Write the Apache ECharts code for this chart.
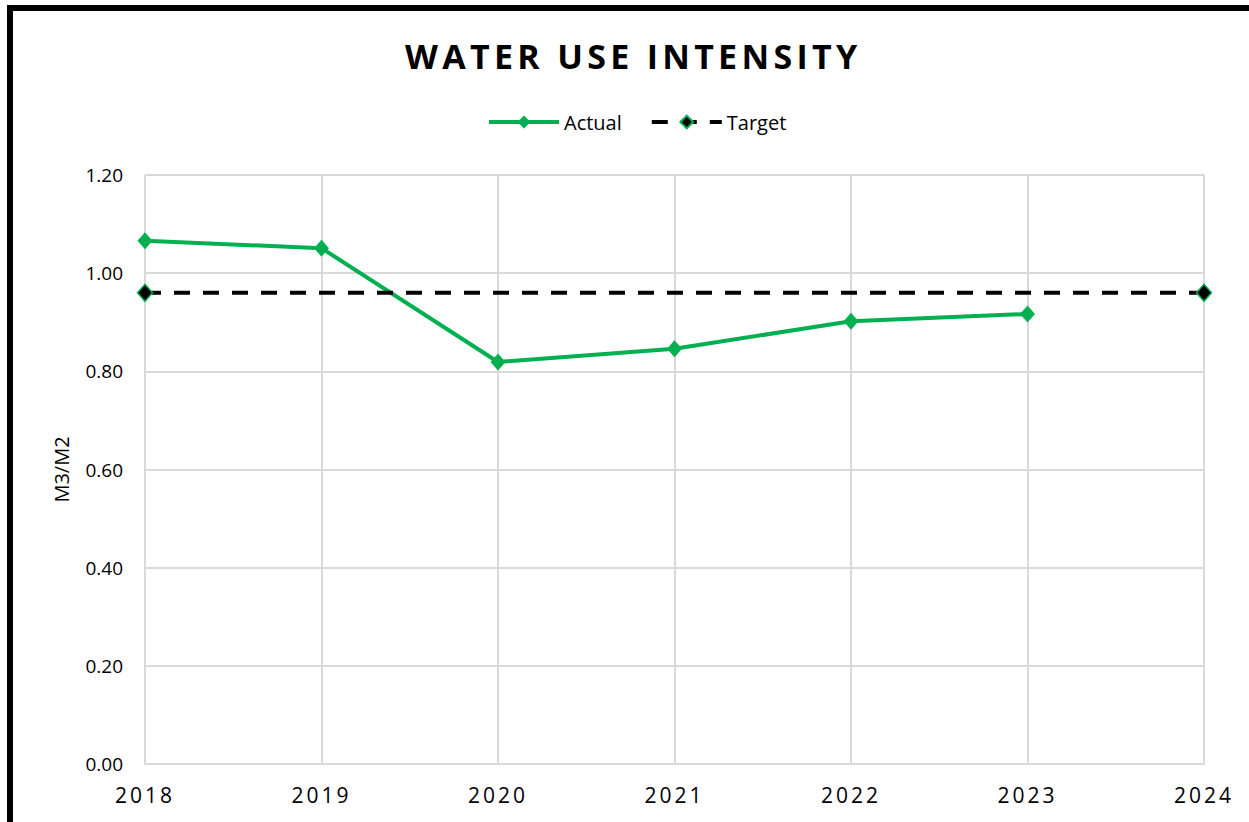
<!DOCTYPE html>
<html>
<head>
<meta charset="utf-8">
<script src="https://cdn.jsdelivr.net/npm/echarts@6/dist/echarts.min.js"></script>
<style>html,body{margin:0;padding:0;background:#fff}#c{width:1249px;height:822px}</style>
</head>
<body>
<div id="c"></div>
<script>
const categories = ['2018','2019','2020','2021','2022','2023','2024'];
const actualValues = [1.066, 1.051, 0.819, 0.846, 0.902, 0.917, null];
const targetValues = [0.96, 0.96, 0.96, 0.96, 0.96, 0.96, 0.96];
const yTicks = [0, 0.2, 0.4, 0.6, 0.8, 1.0, 1.2];
const titleText = 'WATER USE INTENSITY';

const chart = echarts.init(document.getElementById('c'), null, {renderer: 'svg'});
const font = '"Open Sans", "Noto Sans", sans-serif';
chart.setOption({
  animation: false,
  backgroundColor: '#fff',
  title: {
    text: titleText,
    left: 400, top: 34,
    textStyle: {fontFamily: font, fontWeight: 'bold', fontSize: 34, color: '#000'}
  },
  legend: {
    top: 107, left: 482,
    itemWidth: 70, itemHeight: 16, itemGap: 28,
    textStyle: {fontFamily: font, fontSize: 20, color: '#000'},
    lineStyle: {width: 4},
    data: ['Actual', 'Target']
  },
  grid: {left: 145, right: 45, top: 175, bottom: 58},
  xAxis: {
    type: 'category', data: categories, boundaryGap: false,
    axisLine: {show: true, lineStyle: {color: '#d9d9d9', width: 2}},
    axisTick: {show: false},
    axisLabel: {fontFamily: font, fontSize: 21, color: '#000', margin: 20},
    splitLine: {show: true, lineStyle: {color: '#d9d9d9', width: 2}}
  },
  yAxis: {
    type: 'value', min: yTicks[0], max: yTicks[yTicks.length-1], interval: 0.2,
    name: 'M3/M2', nameLocation: 'middle', nameGap: 74, nameRotate: 90,
    nameTextStyle: {fontFamily: font, fontSize: 20, color: '#000'},
    axisLine: {show: false}, axisTick: {show: false},
    axisLabel: {fontFamily: font, fontSize: 19, color: '#000', margin: 22, formatter: v => v.toFixed(2)},
    splitLine: {show: true, lineStyle: {color: '#d9d9d9', width: 2}}
  },
  series: [
    {
      name: 'Actual', type: 'line', data: actualValues,
      symbol: 'diamond', symbolSize: [15, 17],
      lineStyle: {color: '#00b050', width: 4},
      itemStyle: {color: '#00b050'}
    },
    {
      name: 'Target', type: 'line',
      data: targetValues.map((v, i) => ({value: v, symbol: (i === 0 || i === targetValues.length-1) ? 'diamond' : 'none'})),
      symbol: 'diamond', symbolSize: [15, 17],
      lineStyle: {color: '#000', width: 4, type: [16, 13]},
      itemStyle: {color: '#000', borderColor: '#00b050', borderWidth: 1.5}
    }
  ],
  graphic: [{
    type: 'polyline', z: 100,
    shape: {points: [[10, 830], [10, 8], [1260, 8]]},
    style: {stroke: '#000', lineWidth: 6, fill: null}
  }]
});

function spaceText() {
  document.querySelectorAll('#c text').forEach(t => {
    const s = t.textContent;
    if (s === titleText) t.setAttribute('letter-spacing', '4.3');
    else if (categories.indexOf(s) >= 0) t.setAttribute('letter-spacing', '3');
  });
}
spaceText();
setTimeout(spaceText, 0);
chart.on('finished', spaceText);
</script>
</body>
</html>
